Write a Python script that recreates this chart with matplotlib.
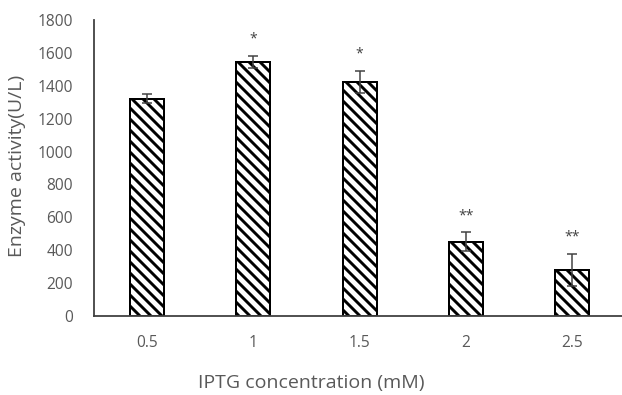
import matplotlib
matplotlib.use("Agg")
import matplotlib.pyplot as plt
import numpy as np

# IPTG induction: enzyme activity per concentration
concentrations = ["0.5", "1", "1.5", "2", "2.5"]
activity = [1322, 1545, 1425, 452, 280]
errors = [28, 38, 67, 57, 100]
significance = ["", "*", "*", "**", "**"]
yticks = [0, 200, 400, 600, 800, 1000, 1200, 1400, 1600, 1800]

DPI = 132
W, H = 622, 395

def px(p):
    return p * 72.0 / DPI

plt.rcParams["font.family"] = ["Open Sans", "DejaVu Sans"]
plt.rcParams["hatch.linewidth"] = 1.6
plt.rcParams["hatch.color"] = "black"

text_col = "#595959"
axis_col = "#404040"

fig = plt.figure(figsize=(W / DPI, H / DPI), dpi=DPI)
ax = fig.add_axes([94 / W, 1 - 316 / H, (W - 94) / W, (316 - 20) / H])

x = np.arange(len(concentrations))
ax.bar(x, activity, width=0.32, facecolor="white", edgecolor="black",
       linewidth=px(2.0), hatch="\\\\\\\\", zorder=2)
ax.errorbar(x, activity, yerr=errors, fmt="none", ecolor=axis_col,
            elinewidth=px(1.5), capsize=px(5), capthick=px(1.5), zorder=3)

for xi, v, e, s in zip(x, activity, errors, significance):
    if s:
        ax.text(xi, v + e + 100, s, ha="center", va="center",
                fontsize=px(14), color="#404040")

ax.set_xlim(-0.5, 4.47)
ax.set_ylim(0, 1800)
ax.set_yticks(yticks)
ax.set_xticks(x)
ax.set_xticklabels(concentrations)
ax.tick_params(axis="both", length=0, labelsize=px(15.5), labelcolor=text_col)
ax.tick_params(axis="x", pad=px(19))
ax.tick_params(axis="y", pad=px(21))

for side in ("top", "right"):
    ax.spines[side].set_visible(False)
for side in ("left", "bottom"):
    ax.spines[side].set_color(axis_col)
    ax.spines[side].set_linewidth(px(1.8))

fig.text(17 / W, 1 - 166 / H, "Enzyme activity(U/L)", rotation=90,
         ha="center", va="center", fontsize=px(19.5), color=text_col)
fig.text(311 / W, 1 - 383 / H, "IPTG concentration (mM)",
         ha="center", va="center", fontsize=px(19.5), color=text_col)

fig.savefig("out.png", dpi=DPI)
